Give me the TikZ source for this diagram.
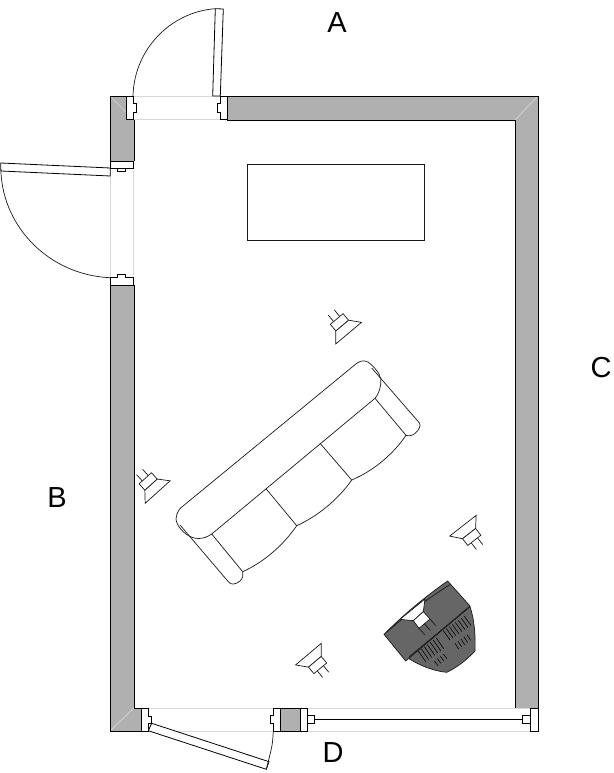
\documentclass[tikz,border=0pt]{standalone}
\usepackage{fontspec}
\setmainfont{Liberation Sans}

\definecolor{wallgray}{HTML}{B0B0B0}
\definecolor{boxgray}{HTML}{666666}
\definecolor{faint}{HTML}{D8D8D8}

\tikzset{
	wall/.style={fill=wallgray,draw=none},
	edge/.style={draw=black,line width=0.8pt},
	jamb/.style={draw=black,fill=white,line width=0.8pt},
	opening/.style={draw=faint,line width=0.7pt},
	thin edge/.style={draw=black!90,line width=0.7pt},
	roomlabel/.style={font=\fontsize{29}{34}\selectfont,inner sep=0pt},
	slot/.style={draw=black,line width=0.6pt},
	speaker/.pic={
		\draw[thin edge,fill=white] (8.5,-8.3) -- (18.5,-16.8) -- (18.5,16.8) -- (8.5,8.3) -- cycle;
		\draw[thin edge,fill=white] (0,-8.3) rectangle (8.5,8.3);
		\draw[thin edge] (0,-4) -- (-8.5,-4) (0,4) -- (-8.5,4);
	}
}

\begin{document}
\begin{tikzpicture}[x=1pt,y=-1pt]
	\useasboundingbox (0,0) rectangle (613,773);

	% walls
	\fill[wall] (110,96) rectangle (134,161);
	\fill[wall] (110,285) rectangle (134,731);
	\fill[wall] (110,708) rectangle (141,731);
	\fill[wall] (227,96) rectangle (538,120);
	\fill[wall] (515,96) rectangle (538,708);
	\fill[wall] (280,708) rectangle (300,731);
	\draw[opening] (110,96) -- (126,112);
	\draw[opening] (538,96) -- (515,120);
	\draw[opening] (110,731) -- (134,708);
	\draw[edge] (126,96) -- (110,96) -- (110,161);
	\draw[edge] (134,119) -- (134,161);
	\draw[edge] (110,285) -- (110,731) -- (141,731);
	\draw[edge] (134,285) -- (134,708) -- (141,708);
	\draw[edge] (227,96) -- (538,96) -- (538,708);
	\draw[edge] (227,120) -- (515,120) -- (515,708);
	\draw[edge] (280,708) -- (300,708) (280,731) -- (300,731);

	% openings
	\draw[opening] (133,96) -- (220,96) (133,119) -- (220,119);
	\draw[opening] (110,168) -- (110,278) (133,171) -- (133,275);
	\draw[opening] (148,708) -- (273,708) (148,731) -- (273,731);
	\draw[opening] (307,708) -- (530,708) (307,731) -- (530,731);

	% door A
	\draw[jamb] (126,96) -- (133,96) -- (133,103.5) -- (136.5,103.5) -- (136.5,112) -- (133,112) -- (133,119) -- (126,119) -- cycle;
	\draw[jamb] (227,96) -- (220,96) -- (220,103.5) -- (217,103.5) -- (217,112) -- (220,112) -- (220,119) -- (227,119) -- cycle;
	\draw[jamb] (215.3,8.7) -- (223.3,9) -- (220.3,96) -- (212.7,96) -- cycle;
	\draw[thin edge] (133,96) .. controls (134,50) and (170,12) .. (215.3,8.7);

	% door B
	\draw[jamb] (110,161) rectangle (133,168.5);
	\draw[jamb] (117.5,168.5) -- (117.5,171.3) -- (125.5,171.3) -- (125.5,168.5);
	\draw[jamb] (110,277.7) rectangle (133,285);
	\draw[jamb] (117.5,277.7) -- (117.5,274.7) -- (125.5,274.7) -- (125.5,277.7);
	\draw[jamb] (0.7,163) -- (110.3,168) -- (110.3,176) -- (0.9,171) -- cycle;
	\draw[thin edge] (0.9,171) .. controls (3,228) and (50,275) .. (110,277.7);

	% door D
	\draw[jamb] (141,708) -- (148.3,708) -- (148.3,716) -- (151.7,716) -- (151.7,723.3) -- (148.3,723.3) -- (148.3,731) -- (141,731) -- cycle;
	\draw[jamb] (280.3,708) -- (273.3,708) -- (273.3,715) -- (270,715) -- (270,723) -- (273.3,723) -- (273.3,731) -- (280.3,731) -- cycle;
	\draw[jamb] (151.7,723.3) -- (269,761.7) -- (266.3,769.3) -- (148.3,730.7) -- cycle;
	\draw[thin edge] (273.3,731) .. controls (272.5,745) .. (266.3,769.3);

	% sliding door
	\draw[jamb] (300,708) rectangle (307.3,731);
	\draw[jamb] (307.3,715.3) rectangle (314.7,723.3);
	\draw[edge] (314.7,719.3) -- (522.7,719.3);
	\draw[jamb] (522.7,715.3) rectangle (530,723.3);
	\draw[jamb] (530,708) rectangle (538,731);

	% table
	\draw[thin edge] (247,164) rectangle (424,240);

	% sofa
	\draw[thin edge] (371.7,368) -- (419.5,423) .. controls (421,426) and (419,430) .. (415,433.5) .. controls (412,436) and (408,436) .. (406,435.3);
	\draw[thin edge] (180,525) -- (228.3,581.7) .. controls (231,585) and (235,585) .. (240,581) .. controls (243,578) and (243.5,575) .. (242.7,571.7);
	\draw[thin edge] (375,398.3) -- (406,435.3);
	\draw[thin edge] (211.7,534) -- (242.7,571.7);
	\draw[thin edge] (180,508.5) -- (356.7,363.3) .. controls (362,359.5) and (367,360) .. (371.7,365) .. controls (379,372) and (382,378) .. (380.7,384) .. controls (380,390) and (378,395) .. (375,398.3) -- (211.7,534) .. controls (203,540) and (194,540) .. (186,534) .. controls (178,528) and (174,520) .. (177,514) .. controls (178,511.5) and (179,510) .. (180,508.5);
	\draw[thin edge] (242.7,571.7) .. controls (262,563) and (282,547) .. (296.7,525.7);
	\draw[thin edge] (296.7,525.7) .. controls (316,517) and (337,501) .. (351.7,480);
	\draw[thin edge] (351.7,480) .. controls (371,472) and (392,456) .. (406,435.3);
	\draw[thin edge] (266,488.7) -- (296.7,525.7);
	\draw[thin edge] (320,443.3) -- (351.7,480);

	% speakers
	\pic[rotate=-50] at (336.7,319) {speaker};
	\pic[rotate=-48] at (145.3,478.3) {speaker};
	\pic[rotate=128] at (474.3,540.3) {speaker};
	\pic[rotate=130] at (320.3,668.3) {speaker};

	% projector
	\begin{scope}[shift={(375,575)},scale=0.3333]
		\draw[thin edge,fill=boxgray] (285,95) .. controls (297,130) and (302,175) .. (300,228) .. controls (275,255) and (245,278) .. (215,292) .. controls (175,288) and (135,272) .. (100,250) -- cycle;
		\draw[thin edge,fill=boxgray] (27,178) .. controls (85,120) and (150,65) .. (218,18) -- (285,93) -- (92,258) -- cycle;
		\draw[thin edge] (35,172) .. controls (95,118) and (160,70) .. (226,28);
		\draw[thin edge] (103,245) -- (275,103);
		\draw[thin edge,fill=white] (75,133) -- (150,72) -- (145,110) -- (115,137) -- cycle;
		\draw[thin edge,fill=white] (115,137) -- (145,110) -- (165,132) -- (132,160) -- cycle;
		\draw[thin edge] (165,132) -- (182,152) (132,160) -- (150,180) (148,146) -- (166,166);
		\foreach \i in {0,...,6}
			\draw[slot] ({130+9*\i},{228-6.5*\i}) -- ({152+9*\i},{260-6.5*\i});
		\foreach \i in {0,...,7}
			\draw[slot] ({205+9*\i},{167-6.2*\i}) -- ({225+9*\i},{195-6.2*\i});
		\foreach \i in {0,...,3}
			\draw[slot] ({178+9*\i},{258-7*\i}) -- ({189+9*\i},{272-7*\i});
		\foreach \i in {0,...,4}
			\draw[slot] ({240+9*\i},{205-6.5*\i}) -- ({251+9*\i},{222-6.5*\i});
	\end{scope}

	% labels
	\node[roomlabel] (labelA) at (337,23) {A};
	\node[roomlabel] (labelB) at (57,498) {B};
	\node[roomlabel] (labelC) at (601,368) {C};
	\node[roomlabel] (labelD) at (333,753) {D};
\end{tikzpicture}
\end{document}
